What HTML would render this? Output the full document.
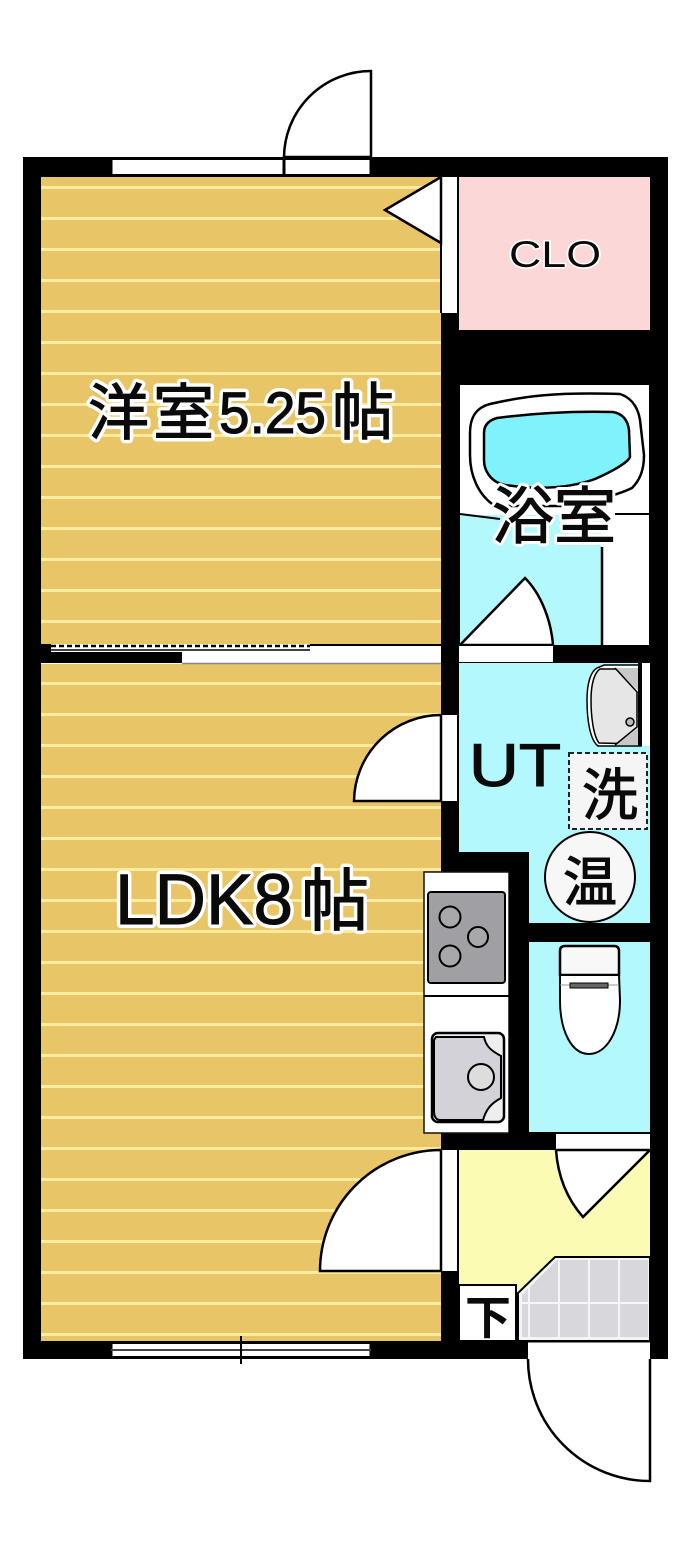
<!DOCTYPE html>
<html lang="ja"><head><meta charset="utf-8"><title>間取り図</title>
<style>html,body{margin:0;padding:0;background:#fff}svg{display:block}
text{font-family:"Liberation Sans","Noto Sans CJK JP",sans-serif;fill:#0a0a0a}
.h{paint-order:stroke;stroke:#fff;stroke-linejoin:round}
.b{stroke:#0a0a0a;stroke-width:1.100}
</style></head><body>
<svg width="700" height="1553" viewBox="0 0 700 1553" xmlns="http://www.w3.org/2000/svg">
<defs>
<pattern id="f1" x="0" y="186" width="10" height="31" patternUnits="userSpaceOnUse"><rect width="10" height="31" fill="#e8c566"/><rect width="10" height="3" fill="#fbeb9f"/></pattern>
<pattern id="f2" x="0" y="682" width="10" height="31" patternUnits="userSpaceOnUse"><rect width="10" height="31" fill="#e8c566"/><rect width="10" height="3" fill="#fbeb9f"/></pattern>
<pattern id="tile" x="530" y="1258" width="30" height="46" patternUnits="userSpaceOnUse"><rect width="30" height="46" fill="#d8d8dc"/><rect x="28" width="2" height="46" fill="#f6f6f6"/><rect y="44" width="30" height="2" fill="#f6f6f6"/></pattern>
</defs>
<rect x="23" y="157" width="645" height="1202" fill="#000"/>
<rect x="41" y="177" width="400" height="468" fill="url(#f1)"/>
<rect x="41" y="663" width="400" height="678" fill="url(#f2)"/>

<!-- top window & door -->
<rect x="111" y="158.500" width="173" height="17" fill="#fff" stroke="#000" stroke-width="3"/>
<rect x="284" y="158.500" width="87" height="17" fill="#fff" stroke="#000" stroke-width="3"/>
<path d="M284 157A87 87 0 0 1 371 71V157Z" fill="#fff" stroke="#000" stroke-width="2.500"/>

<!-- CLO -->
<rect x="459" y="177" width="191" height="153" fill="#fcd7d7"/>
<rect x="441" y="177" width="16" height="136" fill="#fff"/>
<path d="M441 177L385 210L441 243Z" fill="#fff" stroke="#000" stroke-width="2.500"/>
<rect x="440" y="177" width="2" height="136" fill="#000"/>
<text x="509" y="267" font-size="37" textLength="92" lengthAdjust="spacingAndGlyphs" class="h" stroke-width="3">CLO</text>

<!-- bath -->
<rect x="460" y="385" width="189" height="260" fill="#fff"/>
<rect x="460" y="515" width="142" height="130" fill="#b3f8fd"/>
<path d="M470 433C470 415 478 407 490 404C525 396 555 392 620 394C632 398 638 408 640 420L644 455C644 470 640 480 632 488C622 493 600 500 570 506H495C478 495 470 475 470 455Z" fill="#fff" stroke="#000" stroke-width="2.500"/>
<path d="M484 433C484 424 490 420 497 418C535 413 570 411 613 412C624 414 628 422 629 430L630 457C628 462 615 470 595 479C570 488 540 490 505 485C490 482 484 470 484 460Z" fill="#80f2fc" stroke="#000" stroke-width="2.500"/>
<path d="M460 514L500 519M615 514H649" stroke="#000" stroke-width="2"/>
<path d="M602 547V645" stroke="#000" stroke-width="2.500"/>
<path d="M460 645L525 578C541 594 551 620 553 645Z" fill="#fff" stroke="#000" stroke-width="2.500"/>
<text x="492" y="538" font-size="62" class="h" stroke-width="7">浴室</text>
<text x="492" y="538" font-size="62" class="b">浴室</text>

<!-- partition sliding door -->
<rect x="41" y="644" width="400" height="20" fill="#fff"/>
<rect x="41" y="652" width="141" height="11" fill="#000"/>
<rect x="41" y="644" width="10" height="8" fill="#000"/>
<path d="M51 646H310" stroke="#000" stroke-width="2.500" stroke-dasharray="5 3"/>
<path d="M51 650H310" stroke="#000" stroke-width="1.500"/>
<path d="M310 645H441" stroke="#000" stroke-width="2"/>
<path d="M182 663.500H441" stroke="#888" stroke-width="1.500"/>

<!-- bath door strip -->
<rect x="459" y="646" width="94" height="16" fill="#fff"/>

<!-- UT -->
<path d="M459 663H650V923H529V852H459Z" fill="#b3f8fd"/>
<rect x="642" y="663" width="8" height="83" fill="#fff"/>
<path d="M598 746C590 740 587 720 587 700C587 685 590 672 597 668L604 665H641V746Z" fill="#fff" stroke="#000" stroke-width="1.500"/>
<path d="M599 743C593 735 591 715 591 700C591 685 594 673 600 669H640V744Z" fill="#e6e6e6" stroke="#000" stroke-width="1.500"/>
<path d="M615 668H640V692ZM640 727V745H615Z" fill="#c8c8c8"/>
<path d="M615 668L637 692V727L615 745" fill="none" stroke="#000" stroke-width="1.500"/>
<rect x="638" y="663" width="4" height="83" fill="#000"/>
<circle cx="630" cy="722" r="4" fill="#bbb" stroke="#000" stroke-width="1.500"/>
<text x="469" y="786" font-size="60" textLength="92" lengthAdjust="spacingAndGlyphs" class="b">UT</text>
<rect x="569" y="753" width="78" height="76" fill="#f5f5f5" stroke="#222" stroke-width="2" stroke-dasharray="5 3"/>
<text x="582" y="815" font-size="56" class="b">洗</text>
<circle cx="590" cy="877" r="45" fill="#f7f7f7" stroke="#000" stroke-width="2"/>
<text x="563" y="901" font-size="54" class="b">温</text>

<!-- LDK upper door -->
<rect x="442" y="715" width="15" height="86" fill="#fff"/>
<path d="M441 715A87 87 0 0 0 354 801H441Z" fill="#fff" stroke="#000" stroke-width="2.500"/>

<!-- kitchen -->
<rect x="424" y="872" width="85" height="261" fill="#fff" stroke="#111" stroke-width="1.500"/>
<rect x="509" y="872" width="20" height="261" fill="#000"/>
<path d="M424 996H509" stroke="#000" stroke-width="2"/>
<rect x="428" y="892" width="77" height="91" rx="3" fill="#a0a0a4" stroke="#000" stroke-width="2"/>
<g fill="#a8a8ac" stroke="#000" stroke-width="2"><circle cx="450" cy="917" r="10.500"/><circle cx="478" cy="937" r="10"/><circle cx="450" cy="956" r="10.500"/></g>
<rect x="432" y="1033" width="72" height="89" rx="6" fill="#eee" stroke="#000" stroke-width="2.500"/>
<path d="M436 1037H484C486 1046 490 1050 501 1056V1098C490 1104 486 1110 483 1120H440C436 1120 434 1116 434 1112V1040Z" fill="#d2d2d8" stroke="#000" stroke-width="2"/>
<circle cx="481" cy="1077" r="13" fill="#ddd" stroke="#000" stroke-width="2"/>

<!-- toilet room -->
<rect x="529" y="942" width="121" height="190" fill="#b3f8fd"/>
<path d="M560 975V951Q560 946 565 946H614Q619 946 619 951V975Z" fill="#f8f8f8" stroke="#000" stroke-width="2.500"/>
<path d="M560 975H619L620 1000C620 1032 606 1054 589 1054C572 1054 560 1032 560 1000Z" fill="#fff" stroke="#000" stroke-width="2"/>
<path d="M560 985H619" stroke="#999" stroke-width="1"/>
<rect x="570" y="983" width="38" height="5" fill="#666" stroke="#000" stroke-width="1"/>
<path d="M560 975H619" stroke="#000" stroke-width="2"/>

<!-- below toilet door strip -->
<rect x="556" y="1134" width="94" height="15" fill="#fff"/>

<!-- entry -->
<rect x="459" y="1150" width="191" height="191" fill="#fcfbb4"/>
<path d="M556 1150C558 1178 568 1200 583 1217L650 1150Z" fill="#fff" stroke="#000" stroke-width="2.500"/>
<path d="M518 1341V1293L555 1257H650V1341Z" fill="#f4f4f4" stroke="#000" stroke-width="2"/>
<path d="M522 1337V1295L557 1260H648V1337Z" fill="url(#tile)"/>
<rect x="459" y="1285" width="57" height="56" fill="#fff" stroke="#000" stroke-width="2"/>
<text x="465" y="1334" font-size="46" font-weight="700">下</text>

<!-- LDK lower door -->
<rect x="442" y="1150" width="15" height="121" fill="#fff"/>
<path d="M441 1150A121 121 0 0 0 320 1271H441Z" fill="#fff" stroke="#000" stroke-width="2.500"/>

<!-- bottom window -->
<rect x="111" y="1342.500" width="260" height="15" rx="1" fill="#fff" stroke="#000" stroke-width="3"/>
<path d="M111 1350H371" stroke="#444" stroke-width="2"/>
<path d="M241 1336V1364" stroke="#000" stroke-width="2"/>

<!-- entrance door -->
<rect x="528" y="1342" width="122" height="17" fill="#fff"/>
<path d="M528 1341.500H650" stroke="#000" stroke-width="2"/>
<path d="M528 1359A122 122 0 0 0 650 1481V1359" fill="#fff" stroke="#000" stroke-width="2.500"/>

<!-- room labels: white halo layer -->
<text class="h" stroke-width="8" font-size="61" y="434"><tspan x="88">洋</tspan><tspan x="153">室</tspan></text>
<text class="h" stroke-width="8" font-size="58" x="219" y="433" textLength="107" lengthAdjust="spacingAndGlyphs">5.25</text>
<text class="h" stroke-width="8" font-size="62" x="332" y="434">帖</text>
<text class="h" stroke-width="8" font-size="71" x="115" y="924" textLength="178">LDK8</text>
<text class="h" stroke-width="8" font-size="68" x="301" y="925">帖</text>
<!-- room labels: heavier ink layer -->
<text class="b" font-size="61" y="434"><tspan x="88">洋</tspan><tspan x="153">室</tspan></text>
<text class="b" font-size="58" x="219" y="433" textLength="107" lengthAdjust="spacingAndGlyphs">5.25</text>
<text class="b" font-size="62" x="332" y="434">帖</text>
<text class="b" font-size="71" x="115" y="924" textLength="178">LDK8</text>
<text class="b" font-size="68" x="301" y="925">帖</text>
</svg>
</body></html>
